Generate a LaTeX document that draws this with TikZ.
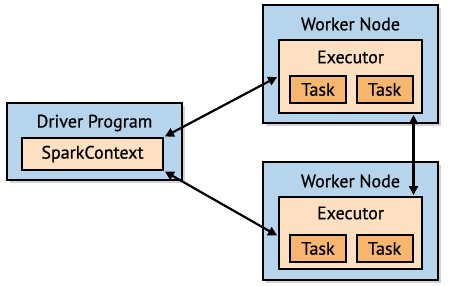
\documentclass[tikz,border=0pt]{standalone}
\usepackage{fontspec}
\setmainfont{PT Sans}
\newfontfamily\lblfont[FakeBold=0.7]{PT Sans}
\usetikzlibrary{arrows.meta, positioning, shadows}
\definecolor{cNode}{RGB}{182,213,236}
\definecolor{cExec}{RGB}{253,224,193}
\definecolor{cTask}{RGB}{246,182,112}

\begin{document}
\begin{tikzpicture}[x=1pt, y=-1pt,
      outer/.style={draw, line width=2.4pt, fill=cNode, minimum width=175pt,
                    drop shadow={opacity=0.35, shadow xshift=3pt, shadow yshift=-3pt}},
      inner/.style={draw, line width=2pt, fill=cExec},
      taskbox/.style={draw, line width=2pt, fill=cTask, minimum width=56pt,
                      minimum height=27pt, inner sep=0pt, font=\lblfont\fontsize{18}{20}\selectfont},
      lbl/.style={font=\lblfont\fontsize{18}{20}\selectfont, inner sep=0pt},
      ar/.style={{Triangle[length=9pt,width=9pt]}-{Triangle[length=9pt,width=9pt]},
                 line width=2.2pt, shorten <=1pt, shorten >=1pt}
    ]
    \useasboundingbox (0,0) rectangle (451,285);

    % driver
    \node[outer, minimum height=77pt] (drv) at (94.5,141.5) {};
    \node[lbl] (drvlbl) at (94.5,123) {Driver Program};
    \node[inner, lbl, minimum width=141pt, minimum height=32pt] (sc) at (92.5,154) {SparkContext};

    % worker 1
    \node[outer, minimum height=118pt] (w1) at (350.5,64) {};
    \node[lbl] (w1lbl) at (350.5,24) {Worker Node};
    \node[inner, minimum width=143pt, minimum height=73pt] (exec1) at (350.5,76.5) {};
    \node[lbl] (ex1lbl) at (350.5,57) {Executor};
    \node[taskbox] (t11) at (318,89.5) {Task};
    \node[taskbox] (t12) at (384.5,89.5) {Task};

    % worker 2
    \node[outer, minimum height=118pt] (w2) at (350.5,221) {};
    \node[lbl] (w2lbl) at (350.5,181) {Worker Node};
    \node[inner, minimum width=143pt, minimum height=72pt] (exec2) at (350.5,233) {};
    \node[lbl] (ex2lbl) at (350.5,213) {Executor};
    \node[taskbox] (t21) at (318,248.5) {Task};
    \node[taskbox] (t22) at (384.5,248.5) {Task};

    % connections
    \draw[ar] (sc.north east) -- (exec1.west);
    \draw[ar] (sc.south east) -- ([yshift=-3pt]exec2.west);
    \draw[ar] (t12.east |- exec1.south) -- (t22.east |- exec2.north);
  \end{tikzpicture}
\end{document}
